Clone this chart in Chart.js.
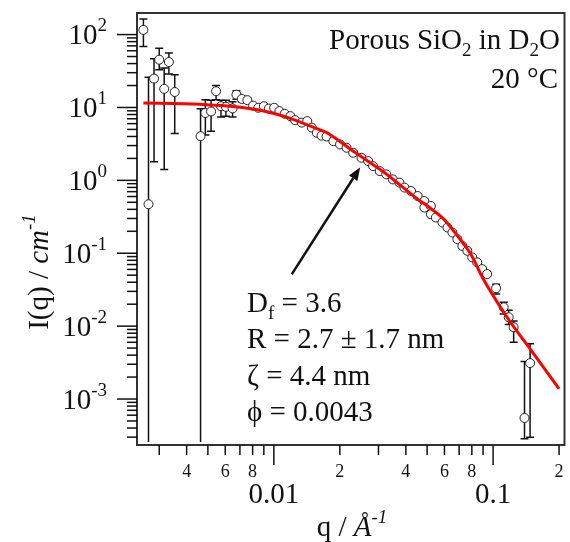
<!DOCTYPE html>
<html><head><meta charset="utf-8">
<script src="https://cdn.jsdelivr.net/npm/chart.js@4.4.0/dist/chart.umd.min.js"></script>
<style>html,body{margin:0;padding:0;background:#fff}</style>
</head><body>
<canvas id="c" width="570" height="542"></canvas>
<script>
// ---- data ----
const qValues = [0.00254,0.00268,0.00284,0.00300,0.00316,0.00332,0.00353,0.00463,0.00487,0.00517,0.00545,0.00574,0.00604,0.00648,
  0.00675,0.00714,0.00757,0.00804,0.00849,0.00900,0.00949,0.01003,0.0106,0.0112,0.0119,0.0125,0.0134,0.0142,0.0149,0.0157,0.0165,0.0174,
  0.01868,0.02004,0.02147,0.02301,0.02509,0.02691,0.02835,0.0304,0.03256,0.03491,0.03741,0.03944,0.04225,0.04529,0.04856,0.04858,
  0.05201,0.05204,0.05482,0.05875,0.06193,0.06523,0.06873,0.07239,0.07627,0.08035,0.08463,0.08914,0.09395,0.1032,0.1118,0.1178,0.1241,
  0.1391,0.1475];
const intensity = [116,0.47,24.9,45.2,18.0,42.0,16.3,4.04,8.4,8.8,16.7,10.4,10.2,9.7,
  15.0,13.1,12.6,10.6,9.9,10.4,9.65,9.9,8.9,8.2,7.6,6.7,6.2,6.5,5.3,4.5,4.1,4.0,
  3.45,3.11,2.80,2.39,2.04,1.84,1.57,1.34,1.21,1.03,0.93,0.795,0.714,0.61,0.52,0.423,
  0.445,0.343,0.309,0.264,0.2254,0.1925,0.156,0.126,0.108,0.0876,0.0748,0.0606,0.0518,0.033,0.01814,0.01324,0.00966,
  0.00055,0.00311];
const errLower = [68.7,0,1.8,33,1.41,28.8,4.4,0,4.2,4.7,12.8,7.4,7.6,7.4,
  13.0,12.0,11.6,9.9,9.4,9.9,9.2,9.4,8.5,7.8,7.2,6.4,5.9,6.2,5.0,4.3,3.9,3.8,
  3.3,2.95,2.66,2.27,1.94,1.75,1.49,1.27,1.15,0.98,0.88,0.755,0.68,0.58,0.49,0.40,
  0.42,0.325,0.293,0.25,0.214,0.182,0.148,0.119,0.102,0.083,0.071,0.057,0.049,0.0276,0.0147,0.0105,0.0060,
  0.000286,0.00030];
const errUpper = [163,25.9,46.7,65,34.8,55.9,28.2,9.6,12.8,12.6,20.0,12.6,12.6,12.0,
  17.0,14.3,13.6,11.3,10.4,10.9,10.1,10.4,9.3,8.6,8.0,7.0,6.5,6.8,5.6,4.7,4.3,4.2,
  3.6,3.27,2.94,2.51,2.14,1.93,1.65,1.41,1.27,1.08,0.98,0.835,0.75,0.64,0.55,0.445,
  0.47,0.36,0.325,0.278,0.237,0.203,0.164,0.133,0.114,0.093,0.080,0.065,0.056,0.0376,0.0213,0.0165,0.0118,
  0.00327,0.00571];
const fitQ = [0.00254,0.0035,0.0049,0.0065,0.0080,0.0095,0.0117,0.0150,0.0177,0.0233,0.0320,0.0453,0.0502,0.0596,0.0764,0.0815,0.0903,0.1120,0.1296,0.1475,0.2000];
const fitI = [11.5,11.3,10.9,10.3,9.5,8.6,7.2,5.4,4.4,2.45,1.27,0.55,0.445,0.293,0.114,0.0825,0.0441,0.0154,0.0082,0.00488,0.00138];

const yMajorTicks = [1e-3,1e-2,1e-1,1,10,100];
const yMajorExponents = ['-3','-2','-1','0','1','2'];
const xMajorTicks = [0.01,0.1];
const xMajorLabels = ['0.01','0.1'];
const xMinorLabelValues = [0.004,0.006,0.008,0.02,0.04,0.06,0.08,0.2];
const xMinorLabelTexts = ['4','6','8','2','4','6','8','2'];
const arrowFrom = {q:0.01206, I:0.0514};
const arrowTo = {q:0.02476, I:1.51};

const FONT = "'Liberation Serif','Times New Roman',serif";

function drawRich(ctx, x, y, parts, align){
  let w = 0;
  parts.forEach(p=>{ctx.font=(p.italic?'italic ':'')+p.px+'px '+FONT; p.w=ctx.measureText(p.t).width; w+=p.w;});
  let cx = align==='right'? x-w : align==='center'? x-w/2 : x;
  ctx.textAlign='left'; ctx.textBaseline='alphabetic';
  parts.forEach(p=>{ctx.font=(p.italic?'italic ':'')+p.px+'px '+FONT; ctx.fillText(p.t, cx, y+(p.dy||0)); cx+=p.w;});
}

const decor = {
  id:'decor',
  beforeDatasetsDraw(chart){
    const {ctx, chartArea:a, scales:{x,y}} = chart;
    ctx.save();
    ctx.beginPath(); ctx.rect(a.left,a.top,a.right-a.left,a.bottom-a.top); ctx.clip();
    ctx.strokeStyle='#111'; ctx.lineWidth=1.5;
    for(let i=0;i<qValues.length;i++){
      const px = x.getPixelForValue(qValues[i]);
      const yHi = y.getPixelForValue(errUpper[i]);
      const yLo = errLower[i]>0 ? y.getPixelForValue(errLower[i]) : a.bottom-3;
      ctx.beginPath(); ctx.moveTo(px,yHi); ctx.lineTo(px,yLo); ctx.stroke();
      ctx.beginPath(); ctx.moveTo(px-4,yHi); ctx.lineTo(px+4,yHi);
      if(errLower[i]>0){ctx.moveTo(px-4,yLo); ctx.lineTo(px+4,yLo);}
      ctx.stroke();
    }
    ctx.restore();
  },
  afterDraw(chart){
    const {ctx, chartArea:a, scales:{x,y}} = chart;
    ctx.save();
    ctx.fillStyle='#111'; ctx.strokeStyle='#111';
    // frame
    ctx.lineWidth=2;
    ctx.strokeStyle='#333';
    ctx.strokeRect(a.left,a.top,a.right-a.left,a.bottom-a.top);
    ctx.strokeStyle='#111'; ctx.lineWidth=1.5;
    // y ticks
    for(let e=-4;e<=2;e++){
      for(let m=1;m<=9;m++){
        const v=m*Math.pow(10,e);
        if(v<y.min||v>y.max) continue;
        const py=y.getPixelForValue(v);
        const len = m===1?20:10;
        ctx.beginPath(); ctx.moveTo(a.left-len,py); ctx.lineTo(a.left,py); ctx.stroke();
      }
    }
    yMajorTicks.forEach((v,i)=>{
      const py=y.getPixelForValue(v);
      drawRich(ctx,107,py+9.5,[{t:'10',px:29},{t:yMajorExponents[i],px:19,dy:-13}],'right');
    });
    // x ticks
    for(let e=-3;e<=0;e++){
      for(let m=1;m<=9;m++){
        const v=m*Math.pow(10,e);
        if(v<x.min||v>x.max) continue;
        const px=x.getPixelForValue(v);
        const len = m===1?20:10;
        ctx.beginPath(); ctx.moveTo(px,a.bottom); ctx.lineTo(px,a.bottom+len); ctx.stroke();
      }
    }
    xMinorLabelValues.forEach((v,i)=>{
      drawRich(ctx,x.getPixelForValue(v),476.5,[{t:xMinorLabelTexts[i],px:18}],'center');
    });
    xMajorTicks.forEach((v,i)=>{
      drawRich(ctx,x.getPixelForValue(v),503,[{t:xMajorLabels[i],px:29}],'center');
    });
    // axis titles
    drawRich(ctx,352,536,[{t:'q / ',px:29},{t:'Å',px:29,italic:true},{t:'-1',px:19,italic:true,dy:-13}],'center');
    ctx.save(); ctx.translate(48,272); ctx.rotate(-Math.PI/2);
    drawRich(ctx,0,0,[{t:'I(q) / ',px:29},{t:'cm',px:29,italic:true},{t:'-1',px:19,italic:true,dy:-13}],'center');
    ctx.restore();
    // annotations
    drawRich(ctx,560,49,[{t:'Porous SiO',px:29},{t:'2',px:19,dy:7},{t:' in D',px:29},{t:'2',px:19,dy:7},{t:'O',px:29}],'right');
    drawRich(ctx,558,88,[{t:'20 °C',px:29}],'right');
    drawRich(ctx,247,311.5,[{t:'D',px:29},{t:'f',px:19,dy:7},{t:' = 3.6',px:29}],'left');
    drawRich(ctx,247,348,[{t:'R = 2.7 ± 1.7 nm',px:29}],'left');
    drawRich(ctx,247,384.5,[{t:'ζ = 4.4 nm',px:29}],'left');
    drawRich(ctx,247,421,[{t:'ϕ = 0.0043',px:29}],'left');
    // arrow
    const x1=x.getPixelForValue(arrowFrom.q), y1=y.getPixelForValue(arrowFrom.I);
    const x2=x.getPixelForValue(arrowTo.q), y2=y.getPixelForValue(arrowTo.I);
    const ang=Math.atan2(y2-y1,x2-x1), hl=13, hw=5;
    const bx=x2-hl*Math.cos(ang), by=y2-hl*Math.sin(ang);
    ctx.lineWidth=2.5; ctx.strokeStyle='#111';
    ctx.beginPath(); ctx.moveTo(x1,y1); ctx.lineTo(bx,by); ctx.stroke();
    ctx.beginPath(); ctx.moveTo(x2,y2);
    ctx.lineTo(bx+hw*Math.sin(ang), by-hw*Math.cos(ang));
    ctx.lineTo(bx-hw*Math.sin(ang), by+hw*Math.cos(ang));
    ctx.closePath(); ctx.fill();
    ctx.restore();
  }
};

new Chart(document.getElementById('c'),{
  type:'scatter',
  data:{datasets:[
    {label:'fit', data:fitQ.map((q,i)=>({x:q,y:fitI[i]})), showLine:true, borderColor:'#ff0000', borderWidth:3,
     pointRadius:0, tension:0.3, fill:false},
    {label:'data', data:qValues.map((q,i)=>({x:q,y:intensity[i]})), pointRadius:4.5, pointBackgroundColor:'#fff',
     pointBorderColor:'#222', pointBorderWidth:1, showLine:false}
  ]},
  options:{
    responsive:false, animation:false, devicePixelRatio:1,
    layout:{padding:{left:137,right:2,top:13,bottom:97}},
    plugins:{legend:{display:false},tooltip:{enabled:false}},
    scales:{
      x:{type:'logarithmic',min:0.002375,max:0.2117,display:false},
      y:{type:'logarithmic',min:2.34e-4,max:197.7,display:false}
    }
  },
  plugins:[decor]
});
</script>
</body></html>
